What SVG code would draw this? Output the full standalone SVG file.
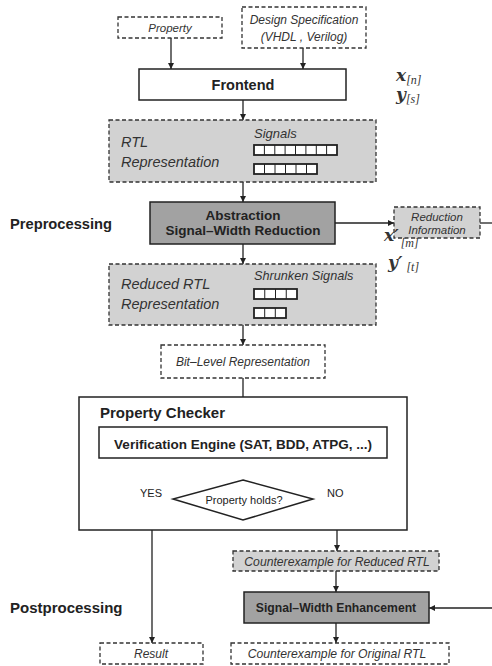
<svg xmlns="http://www.w3.org/2000/svg" width="492" height="666" viewBox="0 0 492 666">
<defs>
<marker id="ah" viewBox="0 0 8 8" refX="8" refY="4" markerWidth="6" markerHeight="6" markerUnits="userSpaceOnUse" orient="auto">
<path d="M0,0 L8,4 L0,8 z" fill="#222"/>
</marker>
<style>
.dash{fill:#fff;stroke:#333;stroke-width:1.3;stroke-dasharray:4 2.5}
.dashg{fill:#d2d2d2;stroke:#333;stroke-width:1.3;stroke-dasharray:4 2.5}
.solid{fill:#fff;stroke:#222;stroke-width:1.5}
.dark{fill:#a2a2a2;stroke:#222;stroke-width:1.5}
.it{font-family:"Liberation Sans",Arial,sans-serif;font-style:italic;fill:#333}
.b{font-family:"Liberation Sans",Arial,sans-serif;font-weight:bold;fill:#222}
.r{font-family:"Liberation Sans",Arial,sans-serif;fill:#222}
.m{font-family:"DejaVu Serif","Liberation Serif",serif;font-style:italic;font-weight:bold;fill:#333}
.sub{font-family:"Liberation Serif",serif;font-style:italic;fill:#333}
.bar{fill:#fff;stroke:#222;stroke-width:1.8}
.cell{fill:none;stroke:#222;stroke-width:1}
.c{fill:none;stroke:#222;stroke-width:1.3}
</style>
</defs>

<g id="connectors" class="c">
<line x1="171" y1="38" x2="171" y2="69" marker-end="url(#ah)"/>
<line x1="303" y1="48" x2="303" y2="69" marker-end="url(#ah)"/>
<line x1="243" y1="100" x2="243" y2="120" marker-end="url(#ah)"/>
<line x1="243" y1="182" x2="243" y2="202" marker-end="url(#ah)"/>
<line x1="243" y1="244" x2="243" y2="264" marker-end="url(#ah)"/>
<line x1="335" y1="223" x2="394" y2="223" marker-end="url(#ah)"/>
<line x1="480" y1="223" x2="492" y2="223"/>
<line x1="243" y1="325" x2="243" y2="345" marker-end="url(#ah)"/>
<line x1="243" y1="378" x2="243" y2="427" marker-end="url(#ah)"/>
<line x1="243" y1="458" x2="243" y2="480" marker-end="url(#ah)"/>
<polyline points="173,499 152,499 152,643" marker-end="url(#ah)"/>
<polyline points="313,499 337,499 337,551" marker-end="url(#ah)"/>
<line x1="336" y1="571" x2="336" y2="592" marker-end="url(#ah)"/>
<line x1="492" y1="608" x2="429" y2="608" marker-end="url(#ah)"/>
<line x1="336" y1="623" x2="336" y2="643" marker-end="url(#ah)"/>
</g>

<g id="property">
<rect class="dash" x="118" y="17" width="104" height="21"/>
<text class="it" x="170" y="32" font-size="11.5" text-anchor="middle">Property</text>
</g>

<g id="design-spec">
<rect class="dash" x="242" y="7" width="124" height="41"/>
<text class="it" x="304" y="24" font-size="12" text-anchor="middle">Design Specification</text>
<text class="it" x="304" y="41" font-size="12" text-anchor="middle">(VHDL , Verilog)</text>
</g>

<g id="frontend">
<rect class="solid" x="139" y="69" width="207" height="31"/>
<text class="b" x="243" y="90" font-size="14.5" text-anchor="middle">Frontend</text>
</g>

<g id="var-labels">
<text class="m" x="396" y="81" font-size="17">x<tspan class="sub" font-weight="normal" font-size="12" dy="3">[n]</tspan></text>
<text class="m" x="396" y="100" font-size="17">y<tspan class="sub" font-weight="normal" font-size="12" dy="3">[s]</tspan></text>
</g>

<g id="rtl">
<rect class="dashg" x="109" y="120" width="267" height="62"/>
<text class="it" x="121" y="147" font-size="14.5">RTL</text>
<text class="it" x="121" y="167" font-size="14.5">Representation</text>
<text class="it" x="254" y="138" font-size="13">Signals</text>
<rect class="bar" x="254" y="145" width="83" height="10"/>
<path class="cell" d="M264.4,145v10M274.8,145v10M285.1,145v10M295.5,145v10M305.9,145v10M316.3,145v10M326.6,145v10"/>
<rect class="bar" x="254" y="164" width="63" height="10"/>
<path class="cell" d="M264.5,164v10M275,164v10M285.5,164v10M296,164v10M306.5,164v10"/>
</g>

<g id="preprocessing-label">
<text class="b" x="10" y="229" font-size="14.7">Preprocessing</text>
</g>

<g id="abstraction">
<rect class="dark" x="150" y="202" width="185" height="42"/>
<text class="b" x="243" y="220" font-size="13.5" text-anchor="middle">Abstraction</text>
<text class="b" x="243" y="235" font-size="13.5" text-anchor="middle">Signal–Width Reduction</text>
</g>

<g id="reduction-info">
<rect class="dashg" x="394" y="207" width="86" height="31"/>
<text class="it" x="437" y="221" font-size="11.5" text-anchor="middle">Reduction</text>
<text class="it" x="437" y="234" font-size="11.5" text-anchor="middle">Information</text>
</g>

<g id="var-labels-reduced">
<text class="m" x="384" y="241" font-size="17">x′<tspan class="sub" font-weight="normal" font-size="12" dx="2" dy="6">[m]</tspan></text>
<text class="m" x="388" y="268" font-size="17">y′<tspan class="sub" font-weight="normal" font-size="12" dx="4" dy="3">[t]</tspan></text>
</g>

<g id="reduced-rtl">
<rect class="dashg" x="109" y="264" width="267" height="61"/>
<text class="it" x="121" y="289" font-size="14.5">Reduced RTL</text>
<text class="it" x="121" y="309" font-size="14.5">Representation</text>
<text class="it" x="254" y="280" font-size="12.7">Shrunken Signals</text>
<rect class="bar" x="254" y="289" width="43" height="10"/>
<path class="cell" d="M264.75,289v10M275.5,289v10M286.25,289v10"/>
<rect class="bar" x="254" y="308" width="32" height="10"/>
<path class="cell" d="M264.7,308v10M275.3,308v10"/>
</g>

<g id="bit-level">
<rect class="dash" x="161" y="345" width="164" height="33"/>
<text class="it" x="243" y="366" font-size="12" text-anchor="middle">Bit–Level Representation</text>
</g>

<g id="property-checker">
<rect class="solid" x="79" y="397" width="328" height="133" fill="none"/>
<text class="b" x="100" y="418" font-size="15">Property Checker</text>
</g>

<g id="verification-engine">
<rect class="solid" x="99" y="427" width="288" height="31"/>
<text class="b" x="243" y="449" font-size="13.5" text-anchor="middle">Verification Engine (SAT, BDD, ATPG, ...)</text>
</g>

<g id="property-holds">
<polygon class="solid" points="243,480 313,499 243,520 173,499"/>
<text class="r" x="244" y="504" font-size="11" text-anchor="middle">Property holds?</text>
<text class="r" x="140" y="497" font-size="11">YES</text>
<text class="r" x="327" y="497" font-size="11">NO</text>
</g>

<g id="ce-reduced">
<rect class="dashg" x="233" y="551" width="206" height="20"/>
<text class="it" x="337" y="566" font-size="12.2" text-anchor="middle">Counterexample for Reduced RTL</text>
</g>

<g id="postprocessing-label">
<text class="b" x="10" y="613" font-size="15">Postprocessing</text>
</g>

<g id="swe">
<rect class="dark" x="244" y="592" width="185" height="31"/>
<text class="b" x="336" y="612" font-size="12.2" text-anchor="middle">Signal–Width Enhancement</text>
</g>

<g id="result">
<rect class="dash" x="100" y="643" width="103" height="21"/>
<text class="it" x="151" y="658" font-size="12" text-anchor="middle">Result</text>
</g>

<g id="ce-original">
<rect class="dash" x="231" y="643" width="218" height="21"/>
<text class="it" x="337" y="658" font-size="12.2" text-anchor="middle">Counterexample for Original RTL</text>
</g>
</svg>
